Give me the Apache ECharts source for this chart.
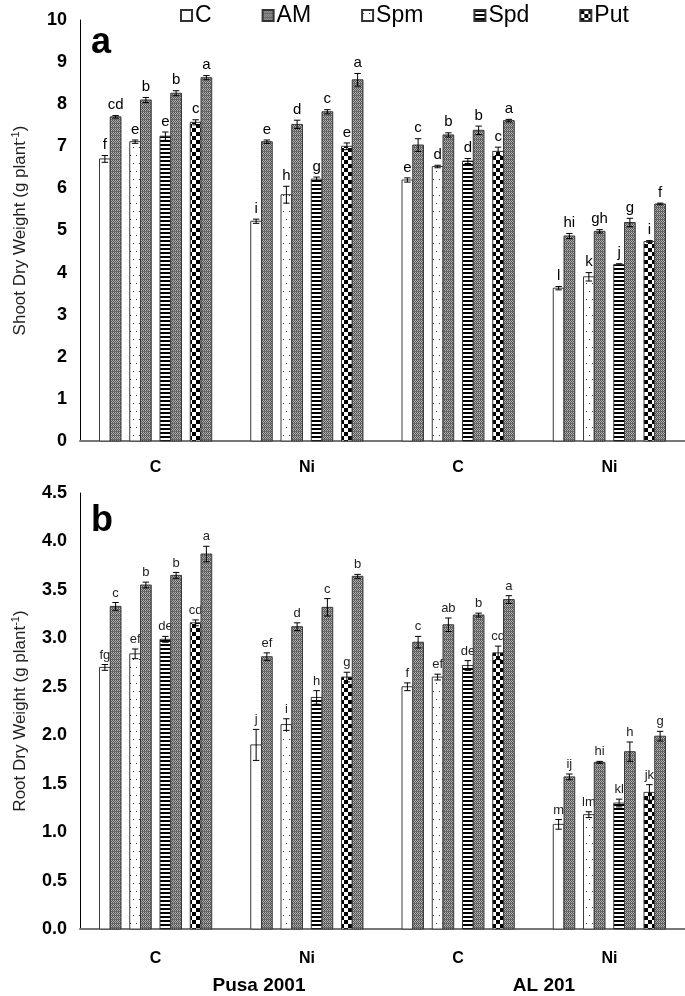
<!DOCTYPE html>
<html><head><meta charset="utf-8">
<script src="https://cdn.jsdelivr.net/npm/echarts@6/dist/echarts.min.js"></script>
<style>html,body{margin:0;padding:0;background:#fff}#c{width:685px;height:996px}</style>
</head><body><div id="c"></div>
<script>
// ---------- data ----------
const groups = ['C', 'Ni', 'C', 'Ni'];
const varieties = ['Pusa 2001', 'AL 201'];
const legendNames = ['C', 'AM', 'Spm', 'Spd', 'Put'];
const treatments = ['C', 'AM', 'Spm', 'Spm+AM', 'Spd', 'Spd+AM', 'Put', 'Put+AM'];
const treatmentLegend = ['C', 'AM', 'Spm', 'AM', 'Spd', 'AM', 'Put', 'AM'];

// panel a: shoot dry weight
const shootC     = [6.70, 5.22, 6.20, 3.63];
const shootAM    = [7.70, 7.11, 7.03, 4.87];
const shootSpm   = [7.11, 5.85, 6.52, 3.90];
const shootSpmAM = [8.10, 7.52, 7.27, 4.98];
const shootSpd   = [7.24, 6.22, 6.65, 4.19];
const shootSpdAM = [8.26, 7.82, 7.38, 5.19];
const shootPut   = [7.57, 7.00, 6.88, 4.74];
const shootPutAM = [8.63, 8.58, 7.61, 5.63];

const shootErrC     = [0.08, 0.05, 0.05, 0.04];
const shootErrAM    = [0.03, 0.04, 0.15, 0.06];
const shootErrSpm   = [0.04, 0.20, 0.03, 0.10];
const shootErrSpmAM = [0.06, 0.10, 0.05, 0.04];
const shootErrSpd   = [0.10, 0.05, 0.06, 0.02];
const shootErrSpdAM = [0.06, 0.05, 0.10, 0.10];
const shootErrPut   = [0.06, 0.08, 0.10, 0.02];
const shootErrPutAM = [0.05, 0.15, 0.03, 0.02];

const shootLetC     = ['f', 'i', 'e', 'l'];
const shootLetAM    = ['cd', 'e', 'c', 'hi'];
const shootLetSpm   = ['e', 'h', 'd', 'k'];
const shootLetSpmAM = ['b', 'd', 'b', 'gh'];
const shootLetSpd   = ['e', 'g', 'd', 'j'];
const shootLetSpdAM = ['b', 'c', 'b', 'g'];
const shootLetPut   = ['c', 'e', 'c', 'i'];
const shootLetPutAM = ['a', 'a', 'a', 'f'];

// panel b: root dry weight
const rootC     = [2.70, 1.90, 2.50, 1.08];
const rootAM    = [3.33, 2.81, 2.96, 1.57];
const rootSpm   = [2.84, 2.11, 2.60, 1.18];
const rootSpmAM = [3.55, 3.12, 3.14, 1.72];
const rootSpd   = [2.99, 2.39, 2.72, 1.30];
const rootSpdAM = [3.65, 3.32, 3.24, 1.83];
const rootPut   = [3.16, 2.60, 2.85, 1.41];
const rootPutAM = [3.87, 3.64, 3.40, 1.99];

const rootErrC     = [0.03, 0.16, 0.04, 0.05];
const rootErrAM    = [0.04, 0.04, 0.06, 0.03];
const rootErrSpm   = [0.05, 0.06, 0.03, 0.03];
const rootErrSpmAM = [0.03, 0.04, 0.07, 0.01];
const rootErrSpd   = [0.03, 0.07, 0.05, 0.04];
const rootErrSpdAM = [0.03, 0.09, 0.02, 0.10];
const rootErrPut   = [0.03, 0.05, 0.07, 0.08];
const rootErrPutAM = [0.08, 0.02, 0.04, 0.05];

const rootLetC     = ['fg', 'j', 'f', 'm'];
const rootLetAM    = ['c', 'ef', 'c', 'ij'];
const rootLetSpm   = ['ef', 'i', 'ef', 'lm'];
const rootLetSpmAM = ['b', 'd', 'ab', 'hi'];
const rootLetSpd   = ['de', 'h', 'de', 'kl'];
const rootLetSpdAM = ['b', 'c', 'b', 'h'];
const rootLetPut   = ['cd', 'g', 'cd', 'jk'];
const rootLetPutAM = ['a', 'b', 'a', 'g'];

const shootTicks = [0, 10, 1];
const rootTicks = [0, 4.5, 0.5];

// ---------- patterns ----------
function tile(w, h, draw) {
  const c = document.createElement('canvas');
  c.width = w; c.height = h;
  const g = c.getContext('2d');
  draw(g);
  return { image: c, repeat: 'repeat' };
}
const patterns = {
  C: '#ffffff',
  AM: tile(4, 4, g => {
    g.fillStyle = '#b0b0b0'; g.fillRect(0, 0, 4, 4);
    g.fillStyle = '#555555';
    g.fillRect(0, 0, 1, 1); g.fillRect(2, 0, 1, 1); g.fillRect(1, 1, 1, 1); g.fillRect(3, 1, 1, 1);
    g.fillRect(0, 2, 1, 1); g.fillRect(2, 2, 1, 1); g.fillRect(1, 3, 1, 1); g.fillRect(3, 3, 1, 1);
    g.fillStyle = '#6a6a6a'; g.fillRect(0, 3, 4, 1);
  }),
  Spm: tile(6, 16, g => {
    g.fillStyle = '#fff'; g.fillRect(0, 0, 6, 16);
    g.fillStyle = '#333'; g.fillRect(1, 3, 1, 1); g.fillRect(4, 11, 1, 1);
  }),
  Spd: tile(4, 4, g => {
    g.fillStyle = '#fff'; g.fillRect(0, 0, 4, 4);
    g.fillStyle = '#000'; g.fillRect(0, 0, 4, 2);
  }),
  Put: tile(8, 8, g => {
    g.fillStyle = '#fff'; g.fillRect(0, 0, 8, 8);
    g.fillStyle = '#000'; g.fillRect(0, 0, 4, 4); g.fillRect(4, 4, 4, 4);
  })
};

const shootVals = [shootC, shootAM, shootSpm, shootSpmAM, shootSpd, shootSpdAM, shootPut, shootPutAM];
const shootErrs = [shootErrC, shootErrAM, shootErrSpm, shootErrSpmAM, shootErrSpd, shootErrSpdAM, shootErrPut, shootErrPutAM];
const shootLets = [shootLetC, shootLetAM, shootLetSpm, shootLetSpmAM, shootLetSpd, shootLetSpdAM, shootLetPut, shootLetPutAM];
const rootVals = [rootC, rootAM, rootSpm, rootSpmAM, rootSpd, rootSpdAM, rootPut, rootPutAM];
const rootErrs = [rootErrC, rootErrAM, rootErrSpm, rootErrSpmAM, rootErrSpd, rootErrSpdAM, rootErrPut, rootErrPutAM];
const rootLets = [rootLetC, rootLetAM, rootLetSpm, rootLetSpmAM, rootLetSpd, rootLetSpdAM, rootLetPut, rootLetPutAM];

function makeSeries(panel, vals, errs, lets, fontCfg) {
  return treatments.map((t, k) => {
    const lname = treatmentLegend[k];
    return {
      type: 'custom',
      name: lname,
      xAxisIndex: panel, yAxisIndex: panel,
      itemStyle: { color: patterns[lname], borderColor: '#333', borderWidth: 1 },
      encode: { x: 0, y: 1 },
      data: vals[k].map((v, i) => [i, v, errs[k][i]]),
      renderItem: function (params, api) {
        const gi = api.value(0), v = api.value(1), e = api.value(2);
        const base = api.coord([gi, 0]);
        const top = api.coord([gi, v]);
        const hi = api.coord([gi, v + e]);
        const lo = api.coord([gi, v - e]);
        const bw = api.size([1, 0])[0];
        const barW = bw * 0.071, pitch = bw * 0.2;
        const span = 3 * pitch + 2 * barW;
        const x0 = base[0] - span / 2 + Math.floor(k / 2) * pitch + (k % 2) * barW;
        const cx = x0 + barW / 2;
        const cap = barW * 0.3;
        return {
          type: 'group',
          children: [
            { type: 'rect', shape: { x: x0, y: top[1], width: barW, height: base[1] - top[1] },
              style: { fill: patterns[lname], stroke: '#3a3a3a', lineWidth: 1 } },
            { type: 'line', shape: { x1: cx, y1: hi[1], x2: cx, y2: lo[1] }, style: { stroke: '#000', lineWidth: 1 } },
            { type: 'line', shape: { x1: cx - cap, y1: hi[1], x2: cx + cap, y2: hi[1] }, style: { stroke: '#000', lineWidth: 1 } },
            { type: 'line', shape: { x1: cx - cap, y1: lo[1], x2: cx + cap, y2: lo[1] }, style: { stroke: '#000', lineWidth: 1 } },
            { type: 'text', x: cx, y: hi[1] - 3,
              style: { text: lets[k][params.dataIndex], x: 0, y: 0, align: 'center', verticalAlign: 'bottom',
                       fill: fontCfg.color, fontSize: fontCfg.size, fontFamily: fontCfg.family } }
          ]
        };
      }
    };
  });
}

const chart = echarts.init(document.getElementById('c'), null, { renderer: 'canvas' });
const FONT = 'Liberation Sans, Arial, sans-serif';

function yAxisCfg(idx, ticks, name, dec) {
  return {
    type: 'value', gridIndex: idx, min: ticks[0], max: ticks[1], interval: ticks[2],
    splitLine: { show: false },
    axisTick: { show: false },
    axisLine: { show: true, lineStyle: { color: '#000', width: 1 } },
    axisLabel: { fontFamily: FONT, fontWeight: 'bold', fontSize: 18, color: '#000', margin: 13,
                 formatter: v => dec ? v.toFixed(1) : String(v) },
    name: name, nameLocation: 'middle', nameGap: 50, nameRotate: 90,
    nameTextStyle: { fontFamily: FONT, fontSize: 17, color: '#222', lineHeight: 20,
                     rich: { sup: { fontSize: 11, verticalAlign: 'top', lineHeight: 20, fontFamily: FONT, color: '#222' } } }
  };
}
function xAxisCfg(idx, margin) {
  return {
    type: 'category', gridIndex: idx, data: groups,
    axisTick: { show: false },
    axisLine: { show: true, lineStyle: { color: '#777', width: 2 } },
    axisLabel: { fontFamily: FONT, fontWeight: 'bold', fontSize: 16, color: '#000', margin: margin }
  };
}

const option = {
  animation: false,
  backgroundColor: '#fff',
  legend: {
    data: legendNames, left: 175, top: -1, itemGap: 50, itemWidth: 11, itemHeight: 11,
    icon: 'rect',
    textStyle: { fontFamily: FONT, fontSize: 23, color: '#000', padding: [0, 0, 0, -2] },
    selectedMode: false
  },
  grid: [
    { left: 80, right: -3, top: 20, bottom: 555 },
    { left: 80, right: -3, top: 493, bottom: 67 }
  ],
  xAxis: [xAxisCfg(0, 19), xAxisCfg(1, 22)],
  yAxis: [
    yAxisCfg(0, shootTicks, 'Shoot Dry Weight (g plant{sup|-1})', false),
    yAxisCfg(1, rootTicks, 'Root Dry Weight (g plant{sup|-1})', true)
  ],
  graphic: [
    { type: 'text', left: 91, top: 25, style: { text: 'a', fontFamily: FONT, fontWeight: 'bold', fontSize: 36, fill: '#000' } },
    { type: 'text', left: 91, top: 503, style: { text: 'b', fontFamily: FONT, fontWeight: 'bold', fontSize: 36, fill: '#000' } },
    { type: 'text', x: 259, y: 986, style: { text: varieties[0], align: 'center', verticalAlign: 'middle', fontFamily: FONT, fontWeight: 'bold', fontSize: 19, fill: '#000' } },
    { type: 'text', x: 544, y: 986, style: { text: varieties[1], align: 'center', verticalAlign: 'middle', fontFamily: FONT, fontWeight: 'bold', fontSize: 19, fill: '#000' } }
  ],
  series: [].concat(
    makeSeries(0, shootVals, shootErrs, shootLets, { size: 15, family: FONT, color: '#000' }),
    makeSeries(1, rootVals, rootErrs, rootLets, { size: 13, family: FONT, color: '#222' })
  )
};
chart.setOption(option);
</script></body></html>
